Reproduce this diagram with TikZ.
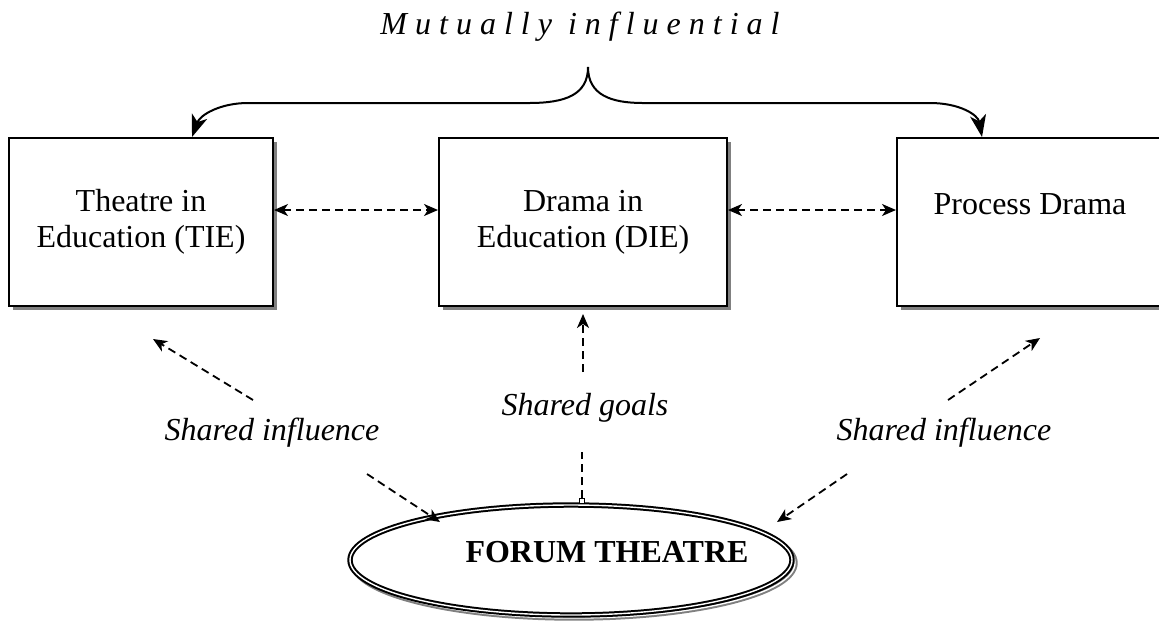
\documentclass[tikz,border=0pt]{standalone}
\usepackage{fontspec}
\setmainfont{Liberation Serif}
\usetikzlibrary{arrows.meta,shapes.geometric,shadows}
\tikzset{
  boxnode/.style={draw, line width=1pt, fill=white, align=center,
    font=\fontsize{16}{18}\selectfont,
    drop shadow={fill=gray, opacity=1, shadow xshift=2pt, shadow yshift=-2pt}},
  forumnode/.style={ellipse, draw, fill=white, line width=1pt, double=white,
    double distance=0.7pt, inner sep=0pt, minimum width=221pt, minimum height=55pt,
    drop shadow={draw=gray, fill=none, opacity=1, line width=1pt, double=white,
      double distance=0.7pt, shadow xshift=1.5pt, shadow yshift=-1.5pt}},
  labelnode/.style={font=\fontsize{16}{18}\selectfont\itshape},
  dashline/.style={line width=0.9pt, dash pattern=on 4pt off 2.5pt},
  dasharrow/.style={dashline, -{Stealth[length=7pt,width=6pt,inset=2pt]}},
  dblarrow/.style={dashline, {Stealth[length=7pt,width=6pt,inset=2pt]}-{Stealth[length=7pt,width=6pt,inset=2pt]}},
  bracearrow/.style={line width=1pt, -{Stealth[length=11pt,width=8pt,inset=3pt]}}
}
\begin{document}
\begin{tikzpicture}[x=0.5pt,y=-0.5pt]
\useasboundingbox (0,0) rectangle (1159,628);

% the three boxes
\node[boxnode, minimum width=132pt, minimum height=84pt] (tie) at (141,222) {Theatre in\\Education (TIE)};
\node[boxnode, minimum width=144pt, minimum height=84pt] (die) at (583,222) {Drama in\\Education (DIE)};
\node[boxnode, minimum width=133pt, minimum height=84pt] (pd) at (1030,222) {Process Drama\\\phantom{X}};

% forum theatre
\node[forumnode] (forum) at (571,560) {};
\node[font=\fontsize{16}{18}\selectfont\bfseries] (ft) at (607,552) {FORUM THEATRE};

% labels
\node[labelnode] (mutual) at (580,27) {\addfontfeature{LetterSpace=25}Mutually influential};
\node[labelnode] (siL) at (272,433) {Shared influence};
\node[labelnode] (goals) at (585,408) {Shared goals};
\node[labelnode] (siR) at (944,433) {Shared influence};

% brace on top
\coordinate (cusp) at (588,67);
\draw[bracearrow] (cusp) .. controls (588,95) and (565,103) .. (529,103) -- (248,103)
  .. controls (220,103) and (200,115) .. (192,0 |- tie.north);
\draw[bracearrow] (cusp) .. controls (588,95) and (611,103) .. (643,103) -- (930,103)
  .. controls (960,103) and (978,115) .. (982,0 |- pd.north);

% between the boxes
\draw[dblarrow] ([yshift=6pt]tie.east) -- ([yshift=6pt]die.west);
\draw[dblarrow] ([yshift=6pt]die.east) -- ([yshift=6pt]pd.west);

% shared influence
\draw[dasharrow] ([xshift=-9.5pt,yshift=16.5pt]siL.center) -- ([xshift=6pt,yshift=-16pt]tie.south);
\draw[dasharrow] ([xshift=47.5pt,yshift=-20.5pt]siL.center) -- ([xshift=-65.5pt,yshift=19pt]forum.center);
\draw[dasharrow] ([xshift=2pt,yshift=16.5pt]siR.center) -- ([xshift=5pt,yshift=-15.5pt]pd.south);
\draw[dasharrow] ([xshift=-48.5pt,yshift=-20.5pt]siR.center) -- ([xshift=103pt,yshift=19pt]forum.center);

% shared goals
\node[draw, fill=white, inner sep=0pt, minimum size=2.5pt, line width=0.4pt] (gsq) at (582,501) {};
\draw[dashline] (gsq.north) -- ([yshift=-22pt]goals.center -| gsq);
\draw[dasharrow] ([yshift=18pt]goals.center -| die.south) -- ([yshift=-3.5pt]die.south);
\end{tikzpicture}
\end{document}
